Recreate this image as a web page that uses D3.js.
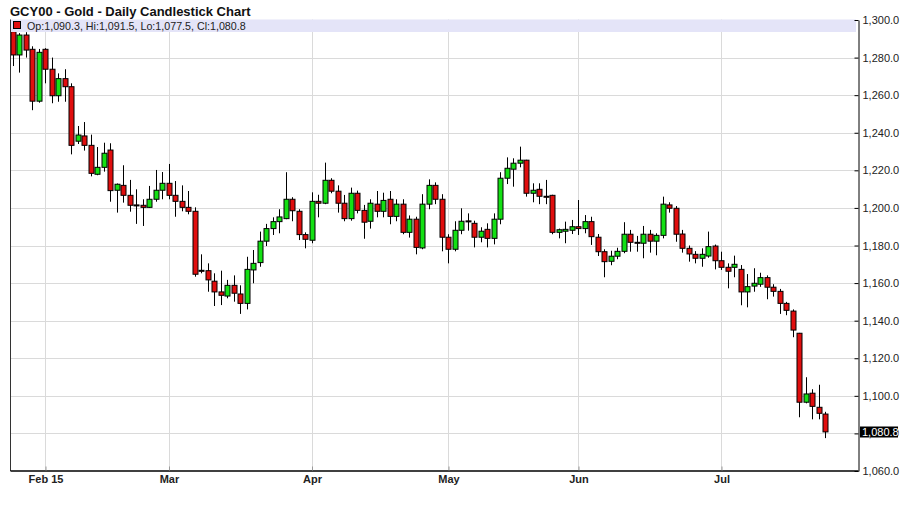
<!DOCTYPE html>
<html>
<head>
<meta charset="utf-8">
<script src="https://cdn.jsdelivr.net/npm/d3@7"></script>
<style>
  html, body { margin: 0; padding: 0; background: #ffffff; }
  svg { display: block; font-family: "Liberation Sans", Arial, sans-serif; }
</style>
</head>
<body>
<svg id="chart" width="900" height="511"></svg>
<script>
// ---- data (GCY00 daily, 26 Jan 2015 .. 24 Jul 2015, trading-day index) ----
const opens = [
1293.8,1281.4,1292.0,1284.4,1256.8,1284.4,1273.8,1259.7,1268.8,1264.5,
1235.5,1238.3,1233.3,1217.9,1221.6,1230.8,1209.4,1212.0,1206.7,1201.6,
1201.4,1200.3,1204.6,1209.4,1213.1,1206.7,1203.5,1200.3,1198.2,1166.8,
1166.6,1161.0,1155.3,1153.1,1158.8,1154.2,1149.2,1167.0,1170.9,1182.3,
1189.0,1192.7,1194.3,1204.6,1198.2,1185.8,1182.8,1203.5,1202.5,1214.7,
1208.9,1202.5,1194.3,1207.8,1198.7,1192.9,1202.0,1198.2,1204.6,1195.5,
1202.0,1187.0,1194.0,1178.7,1202.0,1212.0,1204.6,1184.4,1178.0,1188.1,
1193.1,1191.8,1184.4,1188.6,1183.8,1194.0,1215.8,1220.6,1223.8,1225.4,
1207.8,1209.9,1206.2,1206.7,1187.0,1187.6,1188.1,1190.0,1189.0,1192.7,
1184.4,1176.7,1171.6,1174.3,1176.9,1186.0,1181.7,1181.2,1186.0,1182.3,
1185.4,1201.6,1199.8,1186.1,1178.5,1175.3,1173.2,1174.4,1179.7,1171.9,
1168.4,1168.4,1167.3,1155.3,1158.4,1159.4,1162.9,1157.8,1155.6,1149.2,
1145.1,1133.3,1096.6,1101.4,1093.9,1090.3];
const highs = [
1296.5,1293.0,1293.5,1286.0,1284.6,1285.0,1280.0,1271.6,1273.8,1266.3,
1243.6,1245.7,1239.0,1232.4,1234.7,1234.4,1213.0,1222.7,1214.9,1209.9,
1204.6,1211.7,1220.2,1219.1,1223.4,1214.3,1212.0,1209.0,1200.3,1175.3,
1170.5,1165.2,1166.6,1161.7,1164.1,1158.8,1174.0,1177.6,1187.4,1191.5,
1195.0,1199.3,1219.0,1205.7,1199.3,1187.0,1208.3,1207.0,1224.1,1215.8,
1212.0,1206.9,1210.8,1209.2,1201.6,1204.6,1209.0,1208.1,1209.0,1204.6,
1204.6,1196.0,1195.3,1207.3,1215.2,1213.6,1207.3,1186.0,1192.9,1199.8,
1197.1,1193.2,1189.7,1191.8,1197.1,1219.0,1226.9,1226.4,1232.6,1225.6,
1213.1,1213.1,1214.9,1207.0,1189.0,1192.7,1193.6,1204.2,1196.2,1195.3,
1186.1,1178.0,1177.2,1178.8,1192.4,1188.3,1185.1,1190.4,1188.3,1186.5,
1206.0,1203.0,1201.0,1188.3,1180.0,1177.0,1178.5,1187.4,1180.5,1176.7,
1170.5,1174.6,1169.6,1164.8,1167.9,1165.5,1164.1,1159.4,1156.9,1150.0,
1146.0,1133.5,1109.9,1103.5,1105.9,1091.5];
const lows = [
1275.5,1272.0,1280.0,1252.0,1256.0,1266.3,1255.7,1256.5,1256.5,1228.5,
1234.0,1230.5,1216.8,1217.4,1219.3,1203.3,1197.5,1202.8,1198.0,1191.5,
1190.4,1200.0,1203.3,1204.6,1204.6,1195.3,1198.2,1196.6,1163.4,1165.2,
1155.4,1147.8,1148.3,1151.9,1150.1,1143.6,1146.0,1159.9,1168.7,1179.7,
1185.6,1186.5,1194.0,1192.9,1182.9,1178.5,1181.2,1195.0,1202.0,1207.8,
1197.5,1192.9,1193.2,1197.1,1183.6,1189.0,1195.0,1195.0,1191.3,1192.9,
1186.0,1184.2,1175.3,1178.0,1199.3,1202.0,1176.9,1170.5,1176.9,1186.0,
1187.9,1179.0,1181.7,1179.0,1180.6,1191.3,1212.7,1211.3,1221.6,1206.0,
1203.0,1202.0,1202.0,1186.0,1183.8,1181.2,1186.1,1185.6,1186.5,1180.3,
1174.4,1163.1,1169.5,1172.7,1175.9,1176.7,1176.7,1173.2,1176.2,1174.8,
1183.8,1197.5,1182.0,1176.2,1171.4,1170.5,1168.7,1173.5,1167.3,1167.0,
1157.2,1163.1,1148.2,1147.1,1155.4,1158.0,1151.4,1152.8,1143.6,1142.9,
1131.2,1088.6,1096.0,1087.5,1087.5,1077.5];
const closes = [
1281.4,1292.0,1284.0,1256.8,1282.8,1273.8,1259.7,1268.8,1264.5,1233.3,
1238.8,1233.3,1218.4,1221.6,1229.1,1209.2,1212.6,1206.7,1201.4,1201.4,
1200.3,1204.6,1209.4,1213.1,1206.7,1203.5,1200.3,1198.2,1164.7,1166.6,
1161.7,1155.3,1153.5,1158.8,1154.6,1149.2,1167.3,1170.5,1182.3,1189.0,
1192.7,1195.2,1204.6,1198.5,1185.8,1183.3,1203.5,1202.5,1214.7,1208.9,
1202.5,1194.3,1207.8,1198.7,1192.4,1202.5,1198.2,1204.0,1195.5,1202.0,
1187.0,1194.0,1179.0,1202.0,1212.0,1204.6,1184.4,1178.0,1188.1,1192.9,
1192.9,1184.4,1187.6,1183.8,1194.0,1215.8,1221.1,1223.8,1225.4,1207.8,
1209.4,1206.2,1206.0,1187.0,1188.4,1188.6,1190.0,1189.0,1192.7,1184.7,
1176.7,1171.4,1174.3,1176.9,1186.0,1181.7,1181.5,1186.0,1182.3,1185.4,
1202.0,1199.8,1186.0,1178.5,1175.5,1173.2,1175.3,1179.4,1171.9,1168.4,
1166.3,1170.0,1155.3,1158.1,1159.9,1162.9,1157.8,1155.6,1149.2,1145.5,
1135.0,1096.6,1101.0,1094.4,1090.7,1080.8];

const monthTickIndex = [5, 24, 46, 67, 87, 109];
const monthTickLabels = ["Feb 15", "Mar", "Apr", "May", "Jun", "Jul"];
const priceTicks = [1060,1080,1100,1120,1140,1160,1180,1200,1220,1240,1260,1280,1300];

const titleText = "GCY00 - Gold - Daily Candlestick Chart";
const last = opens.length - 1;
const fmt = d3.format(",.1f");
const legendText = "Op:" + fmt(opens[last]) + ", Hi:" + fmt(highs[last]) +
  ", Lo:" + fmt(lows[last]) + ", Cl:" + fmt(closes[last]);

// ---- layout ----
const plotLeft = 10, plotRight = 858, plotTop = 19.5, plotBottom = 471;

const candles = opens.map((o, i) => ({i, o, h: highs[i], l: lows[i], c: closes[i]}));

const x = d3.scaleLinear().domain([-0.46, 130]).range([plotLeft, plotRight]);
const y = d3.scaleLinear().domain([1060, 1300]).range([plotBottom, 20]);

const svg = d3.select("#chart");

// title
svg.append("text")
  .attr("x", 10).attr("y", 16)
  .attr("font-size", 13).attr("font-weight", "bold").attr("fill", "#111")
  .text(titleText);

// grid
const grid = svg.append("g");
grid.selectAll("line.h").data(priceTicks.filter(v => v > 1060 && v < 1300)).enter()
  .append("line")
  .attr("x1", plotLeft).attr("x2", plotRight)
  .attr("y1", d => Math.round(y(d)) + 0.5).attr("y2", d => Math.round(y(d)) + 0.5)
  .attr("stroke", "#dadada").attr("stroke-width", 1);
grid.selectAll("line.v").data(monthTickIndex).enter()
  .append("line")
  .attr("x1", d => Math.round(x(d)) + 0.5).attr("x2", d => Math.round(x(d)) + 0.5)
  .attr("y1", plotTop).attr("y2", plotBottom)
  .attr("stroke", "#dadada").attr("stroke-width", 1);

// candles
const cg = svg.append("g");
cg.selectAll("line.wick").data(candles).enter()
  .append("line")
  .attr("x1", d => Math.round(x(d.i)) + 0.5).attr("x2", d => Math.round(x(d.i)) + 0.5)
  .attr("y1", d => y(d.h)).attr("y2", d => y(d.l))
  .attr("stroke", "#000").attr("stroke-width", 1);
cg.selectAll("rect.body").data(candles).enter()
  .append("rect")
  .attr("x", d => Math.round(x(d.i)) - 2)
  .attr("width", 5)
  .attr("y", d => y(Math.max(d.o, d.c)))
  .attr("height", d => Math.max(1, Math.abs(y(d.o) - y(d.c))))
  .attr("fill", d => d.c >= d.o ? "#14e014" : "#e00e0e")
  .attr("stroke", "#000").attr("stroke-width", 1);

// legend band
svg.append("rect")
  .attr("x", plotLeft).attr("y", plotTop)
  .attr("width", plotRight - plotLeft - 2).attr("height", 12.5)
  .attr("fill", "#e4e4f8");
svg.append("rect")
  .attr("x", 13.5).attr("y", 21.5).attr("width", 7).attr("height", 7)
  .attr("fill", "#e00e0e").attr("stroke", "#000").attr("stroke-width", 1);
svg.append("text")
  .attr("x", 27).attr("y", 29.5)
  .attr("font-size", 10.7).attr("fill", "#222")
  .text(legendText);

// left border
svg.append("line")
  .attr("x1", plotLeft + 0.5).attr("x2", plotLeft + 0.5)
  .attr("y1", plotTop).attr("y2", plotBottom)
  .attr("stroke", "#333");

// right axis
const yAxis = d3.axisRight(y)
  .tickValues(priceTicks)
  .tickFormat(fmt)
  .tickSizeInner(-4).tickSizeOuter(0).tickPadding(4);
const ya = svg.append("g")
  .attr("transform", `translate(${plotRight + 0.5},0)`)
  .call(yAxis);
ya.select(".domain").attr("stroke", "#000");
ya.selectAll(".tick line").attr("stroke", "#000");
ya.selectAll(".tick text")
  .attr("font-size", 11).attr("fill", "#222")
  .attr("font-family", "'Liberation Sans', Arial, sans-serif");

// bottom axis
const xAxis = d3.axisBottom(x)
  .tickValues(monthTickIndex)
  .tickFormat((d, k) => monthTickLabels[k])
  .tickSizeInner(-4).tickSizeOuter(0).tickPadding(5);
const xa = svg.append("g")
  .attr("transform", `translate(0,${plotBottom - 0.5})`)
  .call(xAxis);
xa.select(".domain").attr("stroke", "#000").attr("stroke-width", 1.5);
xa.selectAll(".tick line").attr("stroke", "#999");
xa.selectAll(".tick text")
  .attr("font-size", 11).attr("font-weight", "bold").attr("fill", "#222")
  .attr("font-family", "'Liberation Sans', Arial, sans-serif");

// last price marker
const lastY = y(closes[last]);
svg.append("rect")
  .attr("x", 860).attr("y", Math.round(lastY) - 5.5)
  .attr("width", 38).attr("height", 11)
  .attr("fill", "#000");
svg.append("text")
  .attr("x", 862).attr("y", lastY)
  .attr("dy", "0.35em")
  .attr("font-size", 11).attr("fill", "#fff")
  .text(fmt(closes[last]));
</script>
</body>
</html>
